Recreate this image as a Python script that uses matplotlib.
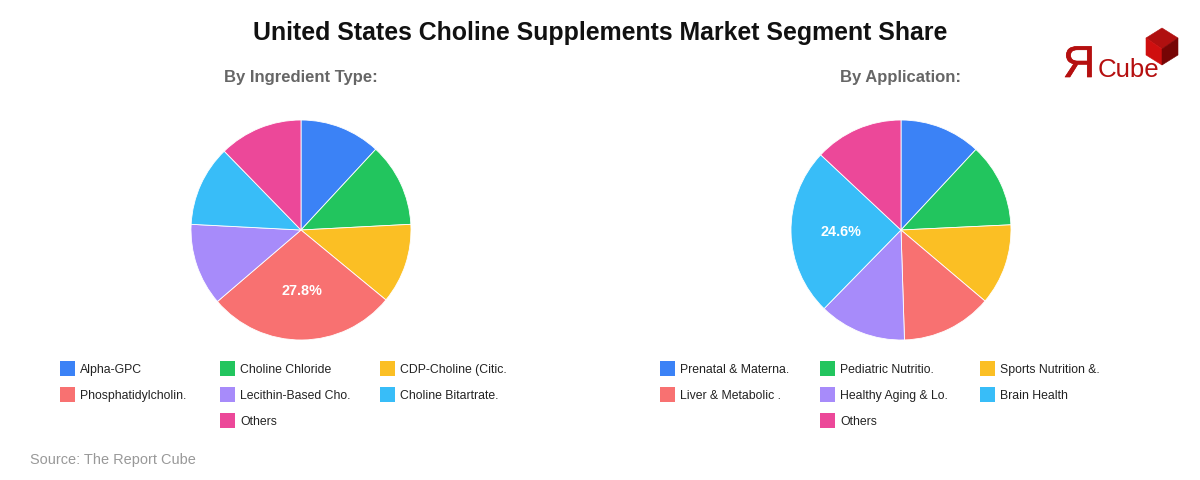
import math
import matplotlib
matplotlib.use("Agg")
import matplotlib.pyplot as plt
from matplotlib.patches import Rectangle, Polygon
import matplotlib.patheffects as pe

plt.rcParams['font.family'] = ['Liberation Sans', 'DejaVu Sans']

title = "United States Choline Supplements Market Segment Share"
source = "Source: The Report Cube"

# left pie
ingredient_title = "By Ingredient Type:"
ingredient_labels = ["Alpha-GPC", "Choline Chloride", "CDP-Choline (Citic.",
                     "Phosphatidylcholin.", "Lecithin-Based Cho.", "Choline Bitartrate.", "Others"]
ingredient_values = [11.9, 12.3, 11.8, 27.8, 12.1, 11.9, 12.3]

# right pie
application_title = "By Application:"
application_labels = ["Prenatal & Materna.", "Pediatric Nutritio.", "Sports Nutrition &.",
                      "Liver & Metabolic .", "Healthy Aging & Lo.", "Brain Health", "Others"]
application_values = [11.9, 12.3, 11.9, 13.3, 12.8, 24.6, 13.0]

colors = ["#3b82f6", "#22c55e", "#fbbf24", "#f87171", "#a78bfa", "#38bdf8", "#ec4899"]

W, H = 1200, 480
fig = plt.figure(figsize=(W / 100, H / 100), dpi=100, facecolor="white")

# overlay in pixel coords for texts, legend and logo
bg = fig.add_axes([0, 0, 1, 1])
bg.set_xlim(0, W)
bg.set_ylim(H, 0)
bg.axis("off")

bg.text(600, 33, title, ha="center", va="center", fontsize=17.9, fontweight="bold", color="#111111")
bg.text(30, 460, source, ha="left", va="center", fontsize=10.45, color="#999999")


def draw_pie(cx, cy, r, values, pie_title, labels, x_off):
    bg.text(cx, 77.5, pie_title, ha="center", va="center", fontsize=12, fontweight="bold", color="#666666")
    ax = fig.add_axes([(cx - r) / W, 1 - (cy + r) / H, 2 * r / W, 2 * r / H])
    wedges, _ = ax.pie(values, colors=colors, startangle=90, counterclock=False, radius=1.0,
                       wedgeprops=dict(edgecolor="white", linewidth=0.6))
    ax.set_xlim(-1, 1)
    ax.set_ylim(-1, 1)
    # only the biggest slice carries a label
    big = values.index(max(values))
    w = wedges[big]
    ang = math.radians((w.theta1 + w.theta2) / 2)
    ax.text(0.55 * math.cos(ang), 0.55 * math.sin(ang) - 0.005, "%.1f%%" % values[big], ha="center", va="center",
            fontsize=10.4, fontweight="bold", color="white")
    # legend, 3 columns, last one sits in the middle column
    cols = [60, 220, 380]
    rows = [368.5, 394.5, 420.5]
    spots = [(0, 0), (1, 0), (2, 0), (0, 1), (1, 1), (2, 1), (1, 2)]
    for i, lab in enumerate(labels):
        c, rw = spots[i]
        x = cols[c] + x_off
        y = rows[rw]
        bg.add_patch(Rectangle((x, y - 7.5), 15, 15, facecolor=colors[i], edgecolor="none"))
        bg.text(x + 20, y + 1.5, lab, ha="left", va="center", fontsize=8.8, color="#222222")


draw_pie(301, 230, 110, ingredient_values, ingredient_title, ingredient_labels, 0)
draw_pie(901, 230, 110, application_values, application_title, application_labels, 600)

# logo
bg.text(1063, 77, "Я", ha="left", va="baseline", fontsize=32, color="#b50f0f",
        path_effects=[pe.withStroke(linewidth=0.5, foreground="#b50f0f")])
bg.text(1098, 77, "Cube", ha="left", va="baseline", fontsize=18.6, color="#b50f0f")
bg.add_patch(Polygon([(1146, 38), (1162, 28), (1178, 38), (1162, 49)], facecolor="#b01010", edgecolor="#b01010", linewidth=0.4))
bg.add_patch(Polygon([(1146, 38), (1162, 49), (1162, 65), (1146, 55)], facecolor="#cf0f0f", edgecolor="#cf0f0f", linewidth=0.4))
bg.add_patch(Polygon([(1162, 49), (1178, 38), (1178, 55), (1162, 65)], facecolor="#760505", edgecolor="#760505", linewidth=0.4))

fig.savefig("out.png", dpi=100, facecolor="white")
